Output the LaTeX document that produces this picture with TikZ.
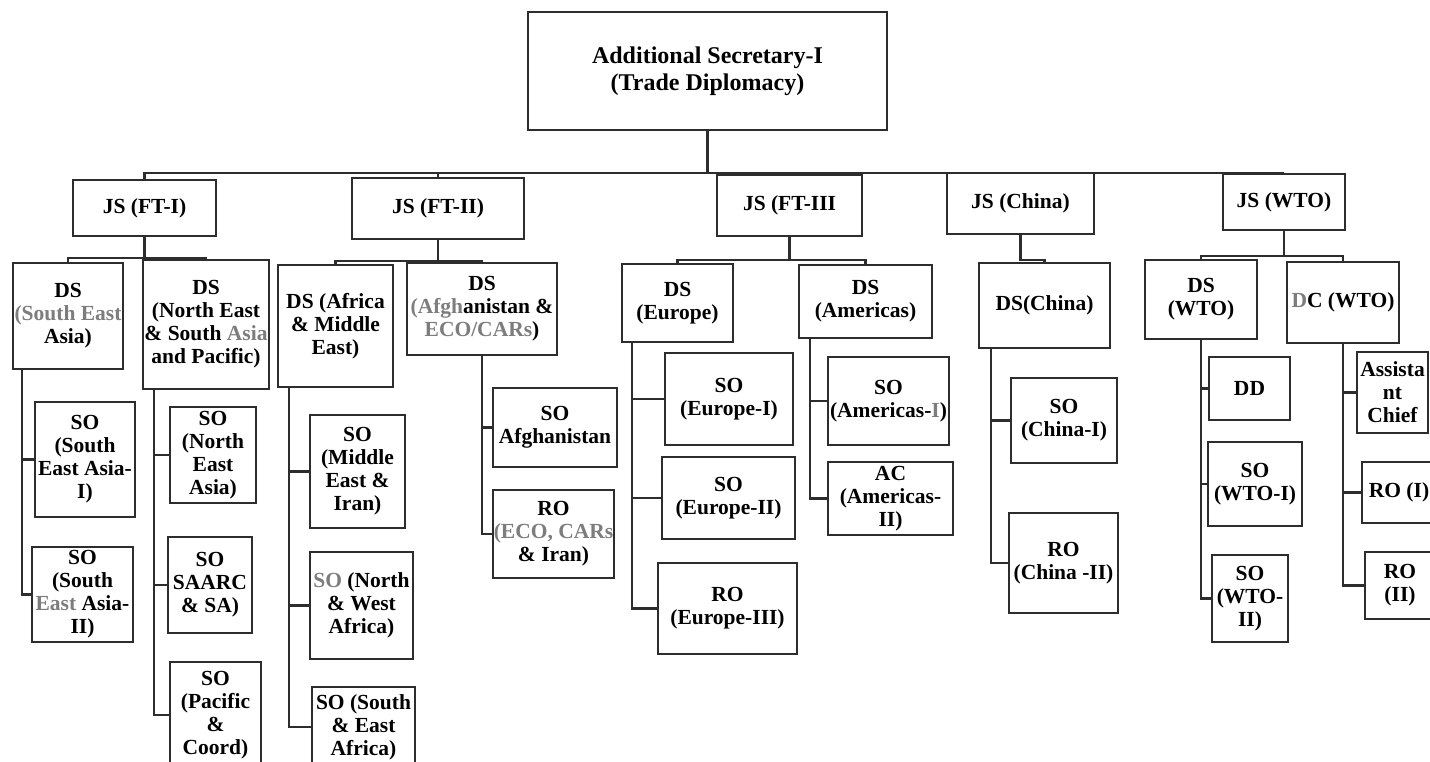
\documentclass[tikz,border=0pt]{standalone}
\usepackage{fontspec}
\setmainfont{Liberation Serif}
\usepackage{xcolor}
\usepackage{tikz}
\definecolor{BoxLine}{RGB}{45, 45, 45}
\definecolor{Faded}{RGB}{125, 125, 125}
\tikzstyle{post} = [rectangle, draw=BoxLine, line width=2.4pt, fill=white, align=center, inner sep=0pt, font=\bfseries\fontsize{21.5}{23}\selectfont]
\tikzstyle{head} = [post, font=\bfseries\fontsize{24}{27}\selectfont]
\tikzstyle{link} = [draw=BoxLine, line width=2.2pt]
\newcommand{\faded}[1]{\textcolor{Faded}{#1}}

\begin{document}
\begin{tikzpicture}[x=1pt, y=-1pt]
\useasboundingbox (0,0) rectangle (1430,761);

% Top
\node (as) [head, minimum width=359pt, minimum height=118pt] at (707.5,71) {Additional Secretary-I\\(Trade Diplomacy)};

% Joint Secretaries
\node (js1) [post, minimum width=143pt, minimum height=56pt] at (144.5,208) {JS (FT-I)};
\node (js2) [post, minimum width=172pt, minimum height=61pt] at (438,208.5) {JS (FT-II)};
\node (js3) [post, minimum width=145pt, minimum height=61pt] at (789.5,205.5) {JS (FT-III};
\node (js4) [post, minimum width=147pt, minimum height=61pt] at (1020.5,203.5) {JS (China)};
\node (js5) [post, minimum width=122pt, minimum height=56pt] at (1284,202) {JS (WTO)};

% Deputy Secretaries
\node (ds1) [post, minimum width=110pt, minimum height=106pt] at (68,316) {DS\\\faded{(South East}\\Asia)};
\node (ds2) [post, minimum width=126pt, minimum height=129pt] at (206,324.5) {DS\\(North East\\\& South \faded{Asia}\\and Pacific)};
\node (ds3) [post, minimum width=115pt, minimum height=122pt] at (335.5,326) {DS (Africa\\\& Middle\\East)};
\node (ds4) [post, minimum width=150pt, minimum height=92pt] at (482,309) {DS\\\faded{(Afgh}anistan \&\\\faded{ECO/CARs})};
\node (ds5) [post, minimum width=111pt, minimum height=78pt] at (677.5,303) {DS\\(Europe)};
\node (ds6) [post, minimum width=133pt, minimum height=73pt] at (865.5,301.5) {DS\\(Americas)};
\node (ds7) [post, minimum width=131pt, minimum height=85pt] at (1044.5,305.5) {DS(China)};
\node (ds8) [post, minimum width=112pt, minimum height=79pt] at (1201,299.5) {DS\\(WTO)};
\node (ds9) [post, minimum width=112pt, minimum height=81pt] at (1343,302.5) {\faded{D}C (WTO)};

% Section Officers
\node (s11) [post, minimum width=100pt, minimum height=115pt] at (85,459.5) {SO\\(South\\East Asia-\\I)};
\node (s12) [post, minimum width=101pt, minimum height=95pt] at (82.5,594.5) {SO\\(South\\\faded{East} Asia-\\II)};
\node (s21) [post, minimum width=86pt, minimum height=96pt] at (213,455) {SO\\(North\\East\\Asia)};
\node (s22) [post, minimum width=84pt, minimum height=96pt] at (210,585) {SO\\SAARC\\\& SA)};
\node (s23) [post, minimum width=91pt, minimum height=106pt] at (215.5,715) {SO\\(Pacific\\\&\\Coord)};
\node (s31) [post, minimum width=95pt, minimum height=113pt] at (357.5,471.5) {SO\\(Middle\\East \&\\Iran)};
\node (s32) [post, minimum width=103pt, minimum height=107pt] at (361.5,605.5) {\faded{SO} (North\\\& West\\Africa)};
\node (s33) [post, minimum width=103pt, minimum height=80pt] at (363.5,727) {SO (South\\\& East\\Africa)};
\node (s41) [post, minimum width=124pt, minimum height=79pt] at (555,427.5) {SO\\Afghanistan};
\node (s42) [post, minimum width=121pt, minimum height=88pt] at (553.5,534) {RO\\\faded{(ECO, CARs}\\\& Iran)};
\node (s51) [post, minimum width=128pt, minimum height=92pt] at (729,399) {SO\\(Europe-I)};
\node (s52) [post, minimum width=133pt, minimum height=82pt] at (728.5,498) {SO\\(Europe-II)};
\node (s53) [post, minimum width=139pt, minimum height=91pt] at (727.5,608.5) {RO\\(Europe-III)};
\node (s61) [post, minimum width=121pt, minimum height=88pt] at (888.5,401) {SO\\(Americas-\faded{I})};
\node (s62) [post, minimum width=125pt, minimum height=73pt] at (890.5,498.5) {AC\\(Americas-\\II)};
\node (s71) [post, minimum width=106pt, minimum height=85pt] at (1064,420.5) {SO\\(China-I)};
\node (s72) [post, minimum width=109pt, minimum height=100pt] at (1063.5,563) {RO\\(China -II)};
\node (s81) [post, minimum width=81pt, minimum height=63pt] at (1249.5,388.5) {DD};
\node (s82) [post, minimum width=94pt, minimum height=84pt] at (1255,484) {SO\\(WTO-I)};
\node (s83) [post, minimum width=76pt, minimum height=87pt] at (1250,598.5) {SO\\(WTO-\\II)};
\node (s91) [post, minimum width=71pt, minimum height=81pt] at (1392.5,392.5) {Assista\\nt\\Chief};
\node (s92) [post, minimum width=74pt, minimum height=61pt] at (1399,492.5) {RO (I)};
\node (s93) [post, minimum width=70pt, minimum height=67pt] at (1400,585.5) {RO\\(II)};

% Links to JS
\foreach \j in {js1,js2,js3,js4,js5}
  \draw [link] (as.south) -- ++(0,42) -| (\j.north);

% Links to DS
\draw [link] (js1.south) -- ++(0,21) -| (ds1.north);
\draw [link] (js1.south) -- ++(0,21) -| (ds2.north);
\draw [link] (js2.south) -- ++(0,21) -| (ds3.north);
\draw [link] (js2.south) -- ++(0,21) -| (ds4.north);
\draw [link] (js3.south) -- ++(0,23) -| (ds5.north);
\draw [link] (js3.south) -- ++(0,23) -| (ds6.north);
\draw [link] (js4.south) -- ++(0,25) -| (ds7.north);
\draw [link] (js5.south) -- ++(0,25) -| (ds8.north);
\draw [link] (js5.south) -- ++(0,25) -| (ds9.north);

% Links to SO / RO
\draw [link] ([xshift=10pt]ds1.south west) |- (s11.west);
\draw [link] ([xshift=10pt]ds1.south west) |- (s12.west);
\draw [link] ([xshift=12pt]ds2.south west) |- (s21.west);
\draw [link] ([xshift=12pt]ds2.south west) |- (s22.west);
\draw [link] ([xshift=12pt]ds2.south west) |- (s23.west);
\draw [link] ([xshift=12pt]ds3.south west) |- (s31.west);
\draw [link] ([xshift=12pt]ds3.south west) |- (s32.west);
\draw [link] ([xshift=12pt]ds3.south west) |- (s33.west);
\draw [link] (ds4.south) |- (s41.west);
\draw [link] (ds4.south) |- (s42.west);
\draw [link] ([xshift=11pt]ds5.south west) |- (s51.west);
\draw [link] ([xshift=11pt]ds5.south west) |- (s52.west);
\draw [link] ([xshift=11pt]ds5.south west) |- (s53.west);
\draw [link] ([xshift=12pt]ds6.south west) |- (s61.west);
\draw [link] ([xshift=12pt]ds6.south west) |- (s62.west);
\draw [link] ([xshift=13pt]ds7.south west) |- (s71.west);
\draw [link] ([xshift=13pt]ds7.south west) |- (s72.west);
\draw [link] (ds8.south) |- (s81.west);
\draw [link] (ds8.south) |- (s82.west);
\draw [link] (ds8.south) |- (s83.west);
\draw [link] (ds9.south) |- (s91.west);
\draw [link] (ds9.south) |- (s92.west);
\draw [link] (ds9.south) |- (s93.west);

\end{tikzpicture}
\end{document}
